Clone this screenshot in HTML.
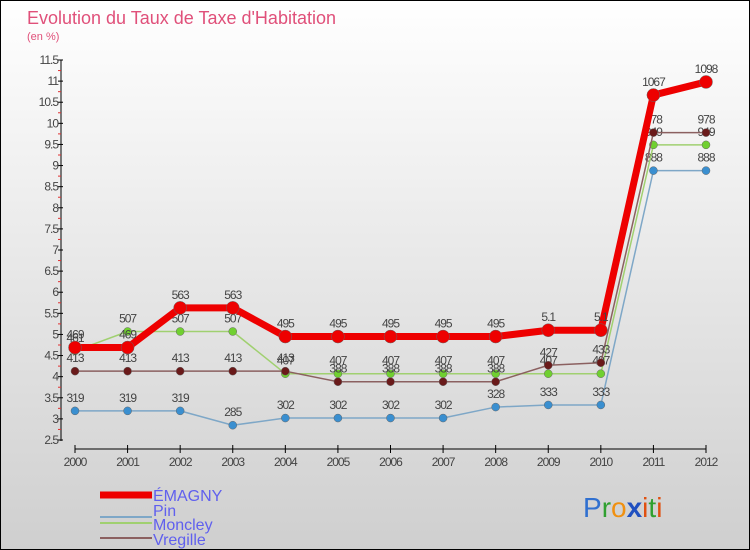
<!DOCTYPE html>
<html><head><meta charset="utf-8"><style>
body{margin:0}
#c{width:750px;height:550px;position:relative;overflow:hidden;font-family:"Liberation Sans","DejaVu Sans",sans-serif}
svg text{font-family:"Liberation Sans","DejaVu Sans",sans-serif}
</style></head><body>
<div id="c">
<svg id="s" width="750" height="550" xmlns="http://www.w3.org/2000/svg">
<defs><linearGradient id="bg" x1="0" y1="0" x2="0" y2="1"><stop offset="0" stop-color="#ffffff"/><stop offset="1" stop-color="#cfcfcf"/></linearGradient></defs>
<rect x="0.5" y="0.5" width="749" height="549" fill="url(#bg)" stroke="#000"/>
<text x="27" y="24" font-size="18" fill="#e0507a">Evolution du Taux de Taxe d'Habitation</text>
<text x="27" y="40" font-size="11" fill="#e0507a">(en %)</text>
<g id="axes"></g><g id="series"></g>
<g>
<line x1="100" y1="495" x2="152" y2="495" stroke="#ee0000" stroke-width="7"/>
<line x1="100" y1="517" x2="152" y2="517" stroke="#7ea7c7" stroke-width="2"/>
<line x1="100" y1="523" x2="152" y2="523" stroke="#a0d070" stroke-width="2" opacity="0"/>
<line x1="100" y1="523" x2="152" y2="523" stroke="#a0d070" stroke-width="2"/>
<line x1="100" y1="538" x2="152" y2="538" stroke="#8b6060" stroke-width="2"/>
<text x="153" y="501" font-size="16" fill="#6060ee">ÉMAGNY</text>
<text x="153" y="516" font-size="16" fill="#6060ee">Pin</text>
<text x="153" y="530" font-size="16" fill="#6060ee">Moncley</text>
<text x="153" y="545" font-size="16" fill="#6060ee">Vregille</text>
</g>
<g font-size="28" font-family="DejaVu Sans">
<text x="583" y="517"><tspan fill="#3070d0">P</tspan><tspan fill="#30a030">r</tspan><tspan fill="#f09010">o</tspan><tspan fill="#2050c0" font-weight="bold">x</tspan><tspan fill="#e05010">i</tspan><tspan fill="#30a030">t</tspan><tspan fill="#e05010">i</tspan></text>
</g>
</svg></div>
<script>
const years=["2000","2001","2002","2003","2004","2005","2006","2007","2008","2009","2010","2011","2012"];
const emagny=[4.69,4.69,5.63,5.63,4.95,4.95,4.95,4.95,4.95,5.1,5.1,10.67,10.98];
const pin=[3.19,3.19,3.19,2.85,3.02,3.02,3.02,3.02,3.28,3.33,3.33,8.88,8.88];
const moncley=[4.61,5.07,5.07,5.07,4.07,4.07,4.07,4.07,4.07,4.07,4.07,9.49,9.49];
const vregille=[4.13,4.13,4.13,4.13,4.13,3.88,3.88,3.88,3.88,4.27,4.33,9.78,9.78];
const yTicks=["2.5","3","3.5","4","4.5","5","5.5","6","6.5","7","7.5","8","8.5","9","9.5","10","10.5","11","11.5"];
const NS="http://www.w3.org/2000/svg";
const X=i=>75+i*(706-75)/(years.length-1);
const Y=v=>440-(v-2.5)*(380/9);
function mk(t,a,p){const e=document.createElementNS(NS,t);for(const k in a)e.setAttribute(k,a[k]);p.appendChild(e);return e;}
const ax=document.getElementById('axes');
let yl=mk('line',{x1:61,y1:60,x2:61,y2:441,stroke:'#000'},ax);

yTicks.forEach(t=>{const v=+t,y=Y(v);
 const tk=mk('line',{x1:58,y1:y,x2:63,y2:y,stroke:'#000'},ax);
 
 if(v<11.5){const m=mk('line',{x1:58,y1:Y(v+0.25),x2:61,y2:Y(v+0.25),stroke:'#e03030'},ax);
 }
 const tx=mk('text',{x:58,y:y+4,'font-size':12,fill:'#444','text-anchor':'end','letter-spacing':'-1'},ax);tx.textContent=t;
 });
let xl=mk('line',{x1:75,y1:449,x2:706,y2:449,stroke:'#000'},ax);

years.forEach((yr,i)=>{const tk=mk('line',{x1:X(i),y1:445,x2:X(i),y2:453,stroke:'#000'},ax);
 
 const tx=mk('text',{x:X(i),y:466,'font-size':12,fill:'#444','text-anchor':'middle','letter-spacing':'-1'},ax);tx.textContent=yr;
 });
const sg=document.getElementById('series');
function series(name,vals,color,w,r,dot){
 const g=mk('g',{},sg);
 const pl=mk('polyline',{points:vals.map((v,i)=>X(i)+','+Y(v)).join(' '),fill:'none',stroke:color,'stroke-width':w,'stroke-linejoin':'round'},g);
 
 vals.forEach((v,i)=>{const c=mk('circle',{cx:X(i),cy:Y(v),r:r,fill:dot,stroke:'#666','stroke-width':0.5},g);
  
  const t=mk('text',{x:X(i),y:Y(v)-9,'font-size':12,fill:'#444','text-anchor':'middle','letter-spacing':'-1'},g);
  t.textContent=String(v).replace(/^(\d)\.(\d\d)$/,'$1$2').replace(/^(\d\d)\.(\d\d)$/,'$1$2');
  });
}
series('pin',pin,'#7ea7c7',1.5,4,'#3a8fd0');
series('moncley',moncley,'#a0d070',1.5,4,'#70d030');
series('vregille',vregille,'#8b6060',1.5,4,'#6a1a1a');
series('emagny',emagny,'#ee0000',7,6.5,'#ee0000');
</script></body></html>
